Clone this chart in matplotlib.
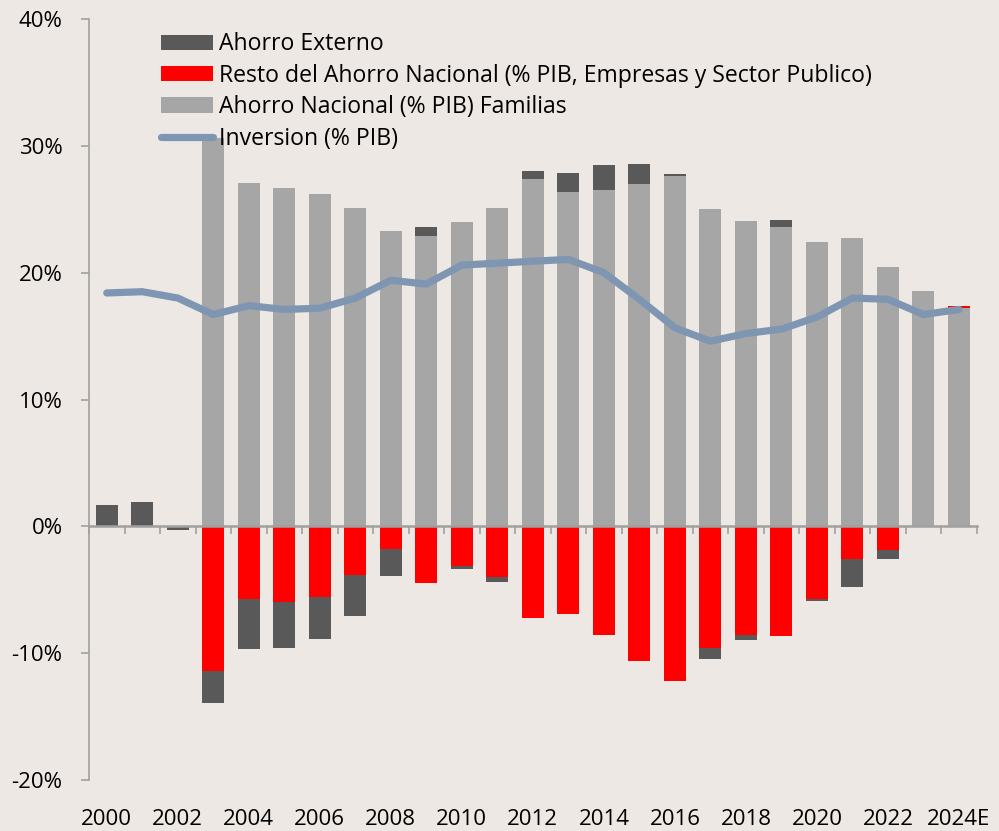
import matplotlib
matplotlib.use("Agg")
import matplotlib.pyplot as plt
import numpy as np
from matplotlib.patches import Patch
from matplotlib.lines import Line2D

years = ['2000', '2001', '2002', '2003', '2004', '2005', '2006', '2007', '2008', '2009',
         '2010', '2011', '2012', '2013', '2014', '2015', '2016', '2017', '2018', '2019',
         '2020', '2021', '2022', '2023', '2024E']
familias = [0, 0, 0, 30.6, 27.1, 26.7, 26.2, 25.1, 23.3, 22.9, 24.0, 25.1, 27.4, 26.35,
            26.5, 27.0, 27.65, 25.05, 24.05, 23.6, 22.4, 22.75, 20.45, 18.55, 17.25]
resto = [0, 0, 0, -11.4, -5.7, -6.0, -5.55, -3.8, -1.75, -4.5, -3.1, -4.0, -7.25, -6.9,
         -8.6, -10.65, -12.2, -9.6, -8.55, -8.65, -5.7, -2.6, -1.9, -0.05, 0.1]
externo = [1.7, 1.9, -0.3, -2.5, -4.0, -3.6, -3.35, -3.25, -2.2, 0.7, -0.25, -0.4, 0.65,
           1.5, 2.0, 1.55, 0.15, -0.85, -0.4, 0.55, -0.15, -2.15, -0.7, 0, 0]
inversion = [18.4, 18.5, 18.0, 16.7, 17.4, 17.1, 17.2, 18.0, 19.4, 19.1, 20.6, 20.75, 20.9,
             21.05, 20.0, 17.9, 15.65, 14.6, 15.2, 15.55, 16.5, 18.0, 17.9, 16.7, 17.1]
yticks = [-20, -10, 0, 10, 20, 30, 40]
ytick_labels = ['-20%', '-10%', '0%', '10%', '20%', '30%', '40%']

labels = ['Ahorro Externo',
          'Resto del Ahorro Nacional (% PIB, Empresas y Sector Publico)',
          'Ahorro Nacional (% PIB) Familias',
          'Inversion (% PIB)']

C_DARK = '#595959'
C_RED = '#FF0000'
C_GRAY = '#A6A6A6'
C_LINE = '#7F96B2'
BG = '#EDE8E4'
AX = '#A0A0A0'

plt.rcParams['font.family'] = ['Open Sans', 'DejaVu Sans']

fam = np.array(familias, float)
res = np.array(resto, float)
ext = np.array(externo, float)
x = np.arange(len(years))

res_bottom = np.where(res >= 0, fam, 0.0)
ext_bottom = np.where(ext >= 0, fam + np.maximum(res, 0), np.minimum(res, 0))

fig = plt.figure(figsize=(9.99, 8.31), dpi=100, facecolor=BG)
ax = fig.add_axes([0.0891, 0.0614, 0.8886, 0.9157], facecolor=BG)

w = 0.62
ax.bar(x, fam, w, color=C_GRAY, zorder=2)
ax.bar(x, res, w, bottom=res_bottom, color=C_RED, zorder=2)
ax.bar(x, ext, w, bottom=ext_bottom, color=C_DARK, zorder=2)
ax.plot(x, inversion, color=C_LINE, lw=5.2, solid_capstyle='round', solid_joinstyle='round', zorder=3)

ax.set_xlim(-0.5, len(years) - 0.5)
ax.set_ylim(-20, 40)

for s in ['top', 'right']:
    ax.spines[s].set_visible(False)
ax.spines['left'].set_color(AX)
ax.spines['bottom'].set_color(AX)
ax.spines['left'].set_linewidth(1.2)
ax.spines['bottom'].set_linewidth(1.8)
ax.spines['bottom'].set_position(('data', 0))
ax.spines['bottom'].set_zorder(4)

ax.set_yticks(yticks)
ax.set_yticklabels(ytick_labels)
ax.tick_params(axis='y', length=6, width=1.2, color=AX, labelsize=16, pad=13, labelcolor='black')

ax.set_xticks(np.arange(-0.5, len(years), 1.0))
ax.set_xticklabels([])
ax.tick_params(axis='x', length=6, width=1.2, color=AX, direction='out')

sec = ax.secondary_xaxis(0.0)
sec.set_xticks(x[::2])
sec.set_xticklabels(years[::2])
sec.tick_params(length=0, labelsize=16, pad=21)
sec.spines['bottom'].set_visible(False)

handles = [Patch(facecolor=C_DARK), Patch(facecolor=C_RED), Patch(facecolor=C_GRAY),
           Line2D([0], [0], color=C_LINE, lw=5.2, solid_capstyle='round')]
leg = ax.legend(handles, labels, loc='upper left', bbox_to_anchor=(0.161, 0.961),
                bbox_transform=fig.transFigure, frameon=False, fontsize=16.6,
                handlelength=2.25, handleheight=0.65, handletextpad=0.28,
                labelspacing=0.32, borderaxespad=0, borderpad=0)
leg.set_zorder(5)

fig.savefig('out.png', dpi=100, facecolor=BG)
